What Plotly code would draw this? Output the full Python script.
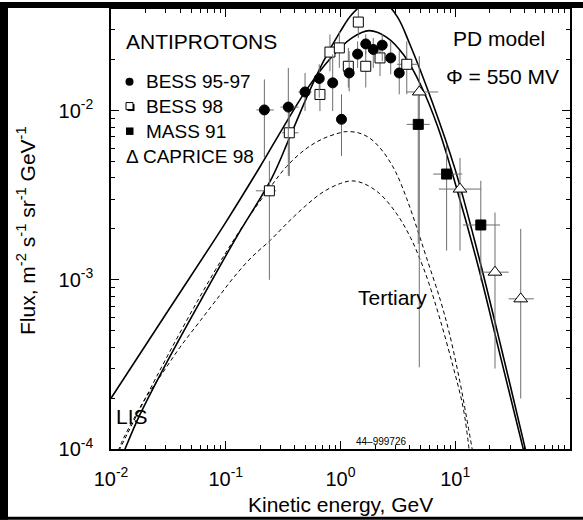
import plotly.graph_objects as go

# ---- measured antiproton flux (E in GeV, flux in m^-2 s^-1 sr^-1 GeV^-1) ----
bess9597_E = [0.217, 0.351, 0.491, 0.653, 0.855, 1.02, 1.19, 1.41, 1.66, 1.93, 2.31, 2.74, 3.25]
bess9597_F = [0.0101, 0.0105, 0.0129, 0.0155, 0.0146, 0.00889, 0.0167, 0.0216, 0.0248, 0.0230, 0.0244, 0.0205, 0.0167]
bess9597_Fhi = [0.0153, 0.0179, 0.0167, 0.0188, 0.0215, 0.0125, 0.0225, 0.0257, 0.0283, 0.0269, 0.0283, 0.0257, 0.0225]
bess9597_Flo = [0.00527, 0.00412, 0.00995, 0.0119, 0.00995, 0.0054, 0.0130, 0.0179, 0.0215, 0.0179, 0.0196, 0.0164, 0.0125]
bess9597_Elo = [0.185, 0.30, 0.43, 0.653, 0.855, 1.02, 1.19, 1.41, 1.66, 1.93, 2.31, 2.74, 3.25]
bess9597_Ehi = [0.262, 0.43, 0.56, 0.653, 0.855, 1.02, 1.19, 1.41, 1.66, 1.93, 2.31, 2.74, 3.25]

bess98_E = [0.240, 0.358, 0.662, 0.809, 0.977, 1.17, 1.43, 1.66, 2.21, 3.78]
bess98_F = [0.00336, 0.0074, 0.01247, 0.0222, 0.0235, 0.0183, 0.0334, 0.0183, 0.0205, 0.0188]
bess98_Fhi = [0.00505, 0.0111, 0.0156, 0.0282, 0.0294, 0.0235, 0.045, 0.0225, 0.0257, 0.0257]
bess98_Flo = [0.0010, 0.0041, 0.00995, 0.0171, 0.0179, 0.0137, 0.0269, 0.0137, 0.0160, 0.0125]
bess98_Elo = [0.183, 0.31, 0.662, 0.809, 0.977, 1.17, 1.43, 1.66, 2.21, 3.1]
bess98_Ehi = [0.275, 0.43, 0.662, 0.809, 0.977, 1.17, 1.43, 1.66, 2.21, 4.9]

mass91_E = [4.76, 8.41, 16.7]
mass91_F = [0.0083, 0.00422, 0.00211]
mass91_Fhi = [0.0125, 0.0063, 0.00385]
mass91_Flo = [0.00163, 0.00149, 0.00099]
mass91_Elo = [3.78, 6.43, 11.7]
mass91_Ehi = [6.0, 11.5, 24.6]

caprice98_E = [4.86, 11.0, 22.2, 37.2]
caprice98_F = [0.0129, 0.00344, 0.00111, 0.000772]
caprice98_Fhi = [0.0210, 0.00526, 0.0025, 0.0020]
caprice98_Flo = [0.000304, 0.00149, 0.000299, 0.000199]
caprice98_Elo = [3.78, 7.2, 16.8, 29.2]
caprice98_Ehi = [7.1, 16.8, 29.2, 48.4]

# ---- PD model curves ----
lis_E = [0.01122, 0.01324, 0.01778, 0.03162, 0.0631, 0.1259, 0.2512, 0.3548, 0.5012, 0.7079, 1.0, 1.259,
         1.778, 2.512, 3.162, 3.981, 6.310, 10.0, 15.85, 25.12, 39.81, 41.69]
lis_F = [7.59e-5, 1.0e-4, 1.585e-4, 3.388e-4, 7.943e-4, 1.820e-3, 3.981e-3, 6.761e-3, 0.01175, 0.0195, 0.02951, 0.03715,
         0.04467, 0.04266, 0.03548, 0.02512, 0.01122, 4.467e-3, 1.413e-3, 3.981e-4, 1.072e-4, 9.33e-5]

mod_E = [0.01, 0.03162, 0.1, 0.1995, 0.3162, 0.5012, 0.7943, 1.259, 1.778, 2.512, 3.548, 5.012, 7.079, 10.0,
         15.85, 25.12, 39.81]
mod_F = [1.995e-4, 6.607e-4, 2.188e-3, 4.677e-3, 7.943e-3, 0.01318, 0.01995, 0.02692, 0.02972, 0.02723, 0.02138,
         0.01413, 7.943e-3, 3.715e-3, 1.202e-3, 3.388e-4, 9.55e-5]

tot_E = [0.01096, 0.01413, 0.01995, 0.03162, 0.05623, 0.1, 0.1585, 0.2399, 0.3388, 0.5012, 0.7079, 1.0, 1.122,
         1.413, 1.778, 2.208, 2.630, 3.090, 3.776, 4.613, 5.623, 7.413, 8.913, 10.96, 12.59, 14.29]
tot_F = [8.91e-5, 1.259e-4, 1.995e-4, 3.631e-4, 7.413e-4, 1.445e-3, 2.344e-3, 3.467e-3, 4.677e-3, 5.957e-3,
         6.839e-3, 7.413e-3, 7.516e-3, 7.413e-3, 6.918e-3, 6.026e-3, 5.129e-3, 4.217e-3, 3.020e-3, 2.042e-3,
         1.349e-3, 7.586e-4, 4.786e-4, 2.512e-4, 1.514e-4, 9.33e-5]

ter_E = [0.01096, 0.01259, 0.01585, 0.01995, 0.02818, 0.03981, 0.06026, 0.08913, 0.1175, 0.166, 0.2455, 0.3548,
         0.5012, 0.7079, 1.0, 1.259, 1.585, 2.188, 3.090, 4.074, 5.012, 5.888, 7.413, 9.55, 11.75, 13.34]
ter_F = [8.91e-5, 1.122e-4, 1.514e-4, 1.995e-4, 2.818e-4, 3.981e-4, 5.754e-4, 8.128e-4, 1.035e-3, 1.349e-3,
         1.718e-3, 2.213e-3, 2.754e-3, 3.311e-3, 3.715e-3, 3.846e-3, 3.715e-3, 3.236e-3, 2.455e-3, 1.778e-3,
         1.288e-3, 9.55e-4, 5.754e-4, 3.09e-4, 1.738e-4, 9.33e-5]


def errs(v, hi, lo):
    return [h - a for a, h in zip(v, hi)], [a - l for a, l in zip(v, lo)]


fig = go.Figure()

bar_col = "#6e6e6e"
dash = "4px,3px"

fig.add_trace(go.Scatter(x=ter_E, y=ter_F, mode="lines", line=dict(color="black", width=1, dash=dash, shape="spline")))
fig.add_trace(go.Scatter(x=tot_E, y=tot_F, mode="lines", line=dict(color="black", width=1, dash=dash, shape="spline")))
fig.add_trace(go.Scatter(x=lis_E, y=lis_F, mode="lines", line=dict(color="black", width=1.6, shape="spline")))
fig.add_trace(go.Scatter(x=mod_E, y=mod_F, mode="lines", line=dict(color="black", width=1.6, shape="spline")))


def data_trace(E, F, Fhi, Flo, Elo, Ehi, symbol, fill, size):
    ep, em = errs(F, Fhi, Flo)
    xp, xm = errs(E, Ehi, Elo)
    return go.Scatter(
        x=E, y=F, mode="markers",
        marker=dict(symbol=symbol, size=size, color=fill, line=dict(color="black", width=1)),
        error_y=dict(type="data", array=ep, arrayminus=em, color=bar_col, thickness=1, width=0),
        error_x=dict(type="data", array=xp, arrayminus=xm, color=bar_col, thickness=1, width=0),
    )


fig.add_trace(data_trace(bess98_E, bess98_F, bess98_Fhi, bess98_Flo, bess98_Elo, bess98_Ehi, "square", "white", 10))
fig.add_trace(data_trace(caprice98_E, caprice98_F, caprice98_Fhi, caprice98_Flo, caprice98_Elo, caprice98_Ehi, "triangle-up", "white", 12))
fig.add_trace(data_trace(mass91_E, mass91_F, mass91_Fhi, mass91_Flo, mass91_Elo, mass91_Ehi, "square", "black", 10))
fig.add_trace(data_trace(bess9597_E, bess9597_F, bess9597_Fhi, bess9597_Flo, bess9597_Elo, bess9597_Ehi, "circle", "black", 10))

# empty traces so the top and right tick axes are laid out
fig.add_trace(go.Scatter(x=[], y=[], xaxis="x2", yaxis="y", hoverinfo="skip"))
fig.add_trace(go.Scatter(x=[], y=[], xaxis="x", yaxis="y2", hoverinfo="skip"))

font = "Liberation Sans, Arial, Helvetica, sans-serif"

x_major = [0.01, 0.1, 1, 10, 100]
x_labels = ["10<sup>-2</sup>", "10<sup>-1</sup>", "10<sup>0</sup>", "10<sup>1</sup>", "10<sup>2</sup>"]
y_major = [1e-4, 1e-3, 1e-2]
y_labels = ["10<sup>-4</sup>", "10<sup>-3</sup>", "10<sup>-2</sup>"]
x_minor = [m * 10.0 ** e for e in range(-2, 2) for m in range(2, 10)]
y_minor = [m * 10.0 ** e for e in range(-4, -1) for m in range(2, 10)]
x_range = [-2, 2]
y_range = [-4, -1.399]


def tick_axis(vals, minor_vals, rng, **kw):
    d = dict(type="log", range=rng, showgrid=False, zeroline=False,
             tickmode="array", tickvals=vals, ticks="inside", ticklen=8, tickwidth=1.2, tickcolor="black",
             minor=dict(tickmode="array", tickvals=minor_vals, ticks="inside", ticklen=4, tickwidth=1,
                        tickcolor="black"))
    d.update(kw)
    return d


fig.update_layout(
    width=583, height=520,
    margin=dict(l=111, r=13, t=7, b=71),
    paper_bgcolor="white", plot_bgcolor="white",
    showlegend=False,
    xaxis=tick_axis(x_major, x_minor, x_range, ticktext=x_labels, showline=True, linecolor="black",
                    linewidth=1.5, mirror=True, ticklabelstandoff=11,
                    tickfont=dict(family=font, size=20, color="black")),
    yaxis=tick_axis(y_major, y_minor, y_range, ticktext=y_labels, showline=True, linecolor="black",
                    linewidth=1.5, mirror=True, ticklabelstandoff=12,
                    tickfont=dict(family=font, size=20, color="black")),
    xaxis2=tick_axis(x_major, x_minor, x_range, overlaying="x", side="top", anchor="y",
                     showticklabels=False, showline=False),
    yaxis2=tick_axis(y_major, y_minor, y_range, overlaying="y", side="right", anchor="x",
                     showticklabels=False, showline=False),
)


def px_x(p):
    return (p - 111) / 459.0


def px_y(p):
    return (449 - p) / 442.0


def note(text, x, y, size, xanchor="center", angle=0):
    fig.add_annotation(text=text, x=px_x(x), y=px_y(y), xref="paper", yref="paper",
                       xanchor=xanchor, yanchor="middle", showarrow=False, textangle=angle,
                       font=dict(family=font, size=size, color="black"))


note("ANTIPROTONS", 124, 40, 21, "left")
note("BESS 95-97", 144, 80, 19, "left")
note("BESS 98", 144, 105, 19, "left")
note("MASS 91", 144, 130, 19, "left")
note("\u0394 CAPRICE 98", 124, 155, 19, "left")
note("PD model", 499, 37, 21)
note("\u03A6 = 550 MV", 502, 75, 21)
note("Tertiary", 392, 297, 21)
note("LIS", 132, 416, 21)
note("44\u2013999726", 381, 441, 10)
note("Kinetic energy, GeV", 340, 505, 21)
note("Flux, m<sup>-2</sup> s<sup>-1</sup> sr<sup>-1</sup> GeV<sup>-1</sup>", 26, 230, 21, "center", -90)


def rect(x0, x1, y0, y1, fill, kind="rect", lw=0):
    fig.add_shape(type=kind, xref="paper", yref="paper",
                  x0=px_x(x0), x1=px_x(x1), y0=px_y(y0), y1=px_y(y1),
                  fillcolor=fill, line=dict(width=lw, color="black"), layer="above")


# legend keys
rect(125.5, 133.5, 76, 84, "black", "circle")
rect(127.5, 134.5, 102.5, 109.5, "black")
rect(126, 133, 101, 108, "white", lw=1)
rect(126, 133.5, 126, 133.5, "black")

# dark frame strips around the page
for x0, x1, y0, y1 in [(0, 583, 0, 6), (0, 8, 0, 520), (0, 583, 517, 520)]:
    rect(x0, x1, y0, y1, "black")

fig.write_html("out.html")
